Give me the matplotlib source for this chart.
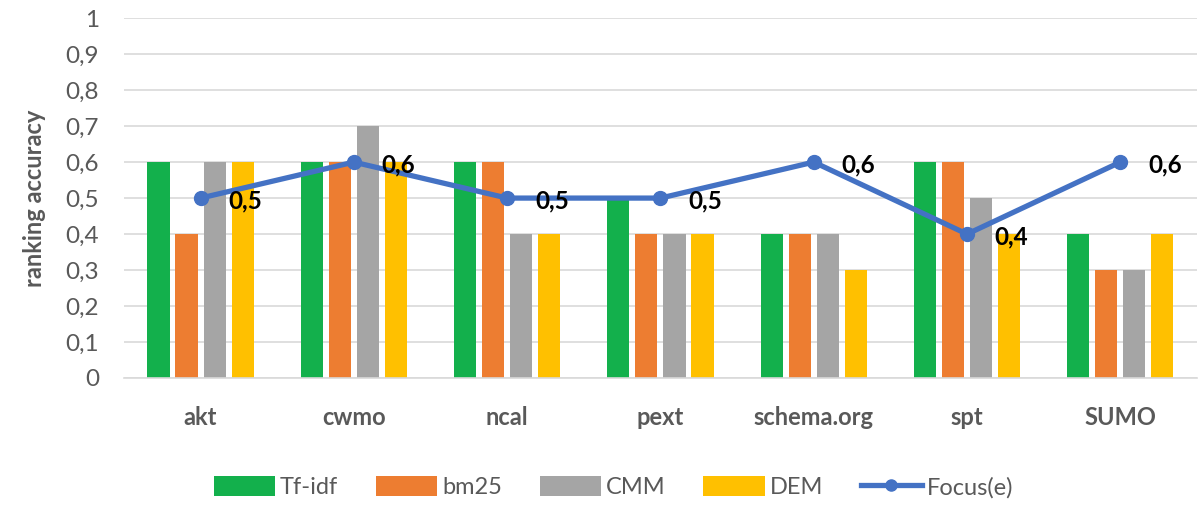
import numpy as np
import matplotlib.pyplot as plt
from matplotlib.ticker import FuncFormatter

plt.rcParams['font.family'] = ['Lato', 'DejaVu Sans']

# data
categories = ['akt', 'cwmo', 'ncal', 'pext', 'schema.org', 'spt', 'SUMO']
tfidf = [0.6, 0.6, 0.6, 0.5, 0.4, 0.6, 0.4]
bm25 = [0.4, 0.6, 0.6, 0.4, 0.4, 0.6, 0.3]
cmm = [0.6, 0.7, 0.4, 0.4, 0.4, 0.5, 0.3]
dem = [0.6, 0.6, 0.4, 0.4, 0.3, 0.4, 0.4]
focus = [0.5, 0.6, 0.5, 0.5, 0.6, 0.4, 0.6]
series_names = ['Tf-idf', 'bm25', 'CMM', 'DEM']
colors = ['#13B04C', '#ED7D31', '#A5A5A5', '#FFC000']

fig = plt.figure(figsize=(12.03, 5.05), dpi=100)
ax = fig.add_axes([0.103, 0.2515, 0.892, 0.7125])

x = np.arange(len(categories))
width = 0.144
pitch = 0.183
for k, (vals, name, c) in enumerate(zip([tfidf, bm25, cmm, dem], series_names, colors)):
    ax.bar(x + (k - 1.5) * pitch, vals, width, color=c, label=name, zorder=2)

ax.plot(x, focus, color='#4472C4', lw=3.8, marker='o', ms=10, label='Focus(e)', zorder=3)
for xi, v in zip(x, focus):
    ax.annotate(f'{v:.1f}'.replace('.', ','), (xi, v), xytext=(20, -2),
                textcoords='offset points', ha='left', va='center',
                fontsize=17.5, fontweight='bold', color='black', zorder=4)

ax.set_xlim(-0.5, len(categories) - 0.5)
ax.set_ylim(0, 1)
ax.set_yticks(np.arange(0, 1.01, 0.1))
ax.yaxis.set_major_formatter(FuncFormatter(
    lambda v, p: '0' if abs(v) < 1e-9 else ('1' if abs(v - 1) < 1e-9 else f'{v:.1f}'.replace('.', ','))))
ax.set_xticks(x)
ax.set_xticklabels(categories, fontsize=17, fontweight='bold', color='#595959')
ax.tick_params(axis='y', labelsize=17.5, labelcolor='#595959', length=0, pad=18)
ax.tick_params(axis='x', length=0, pad=20)
ax.grid(axis='y', color='#D9D9D9', lw=1.2, zorder=0)
ax.set_axisbelow(True)
for s in ['top', 'right', 'left']:
    ax.spines[s].set_visible(False)
ax.spines['bottom'].set_color('#D9D9D9')
ax.spines['bottom'].set_linewidth(1.2)

ax.set_ylabel('ranking accuracy', fontsize=17, fontweight='bold', color='#595959', labelpad=14)

handles, labels = ax.get_legend_handles_labels()
order = [1, 2, 3, 4, 0]
fig.legend([handles[i] for i in order], [labels[i] for i in order],
           loc='center', bbox_to_anchor=(0.51, 0.035), ncol=5, frameon=False,
           fontsize=17, handlelength=2.6, handleheight=0.9, columnspacing=1.6,
           handletextpad=0.2, labelcolor='#595959', markerscale=0.8)

fig.savefig('out.png', dpi=100)
